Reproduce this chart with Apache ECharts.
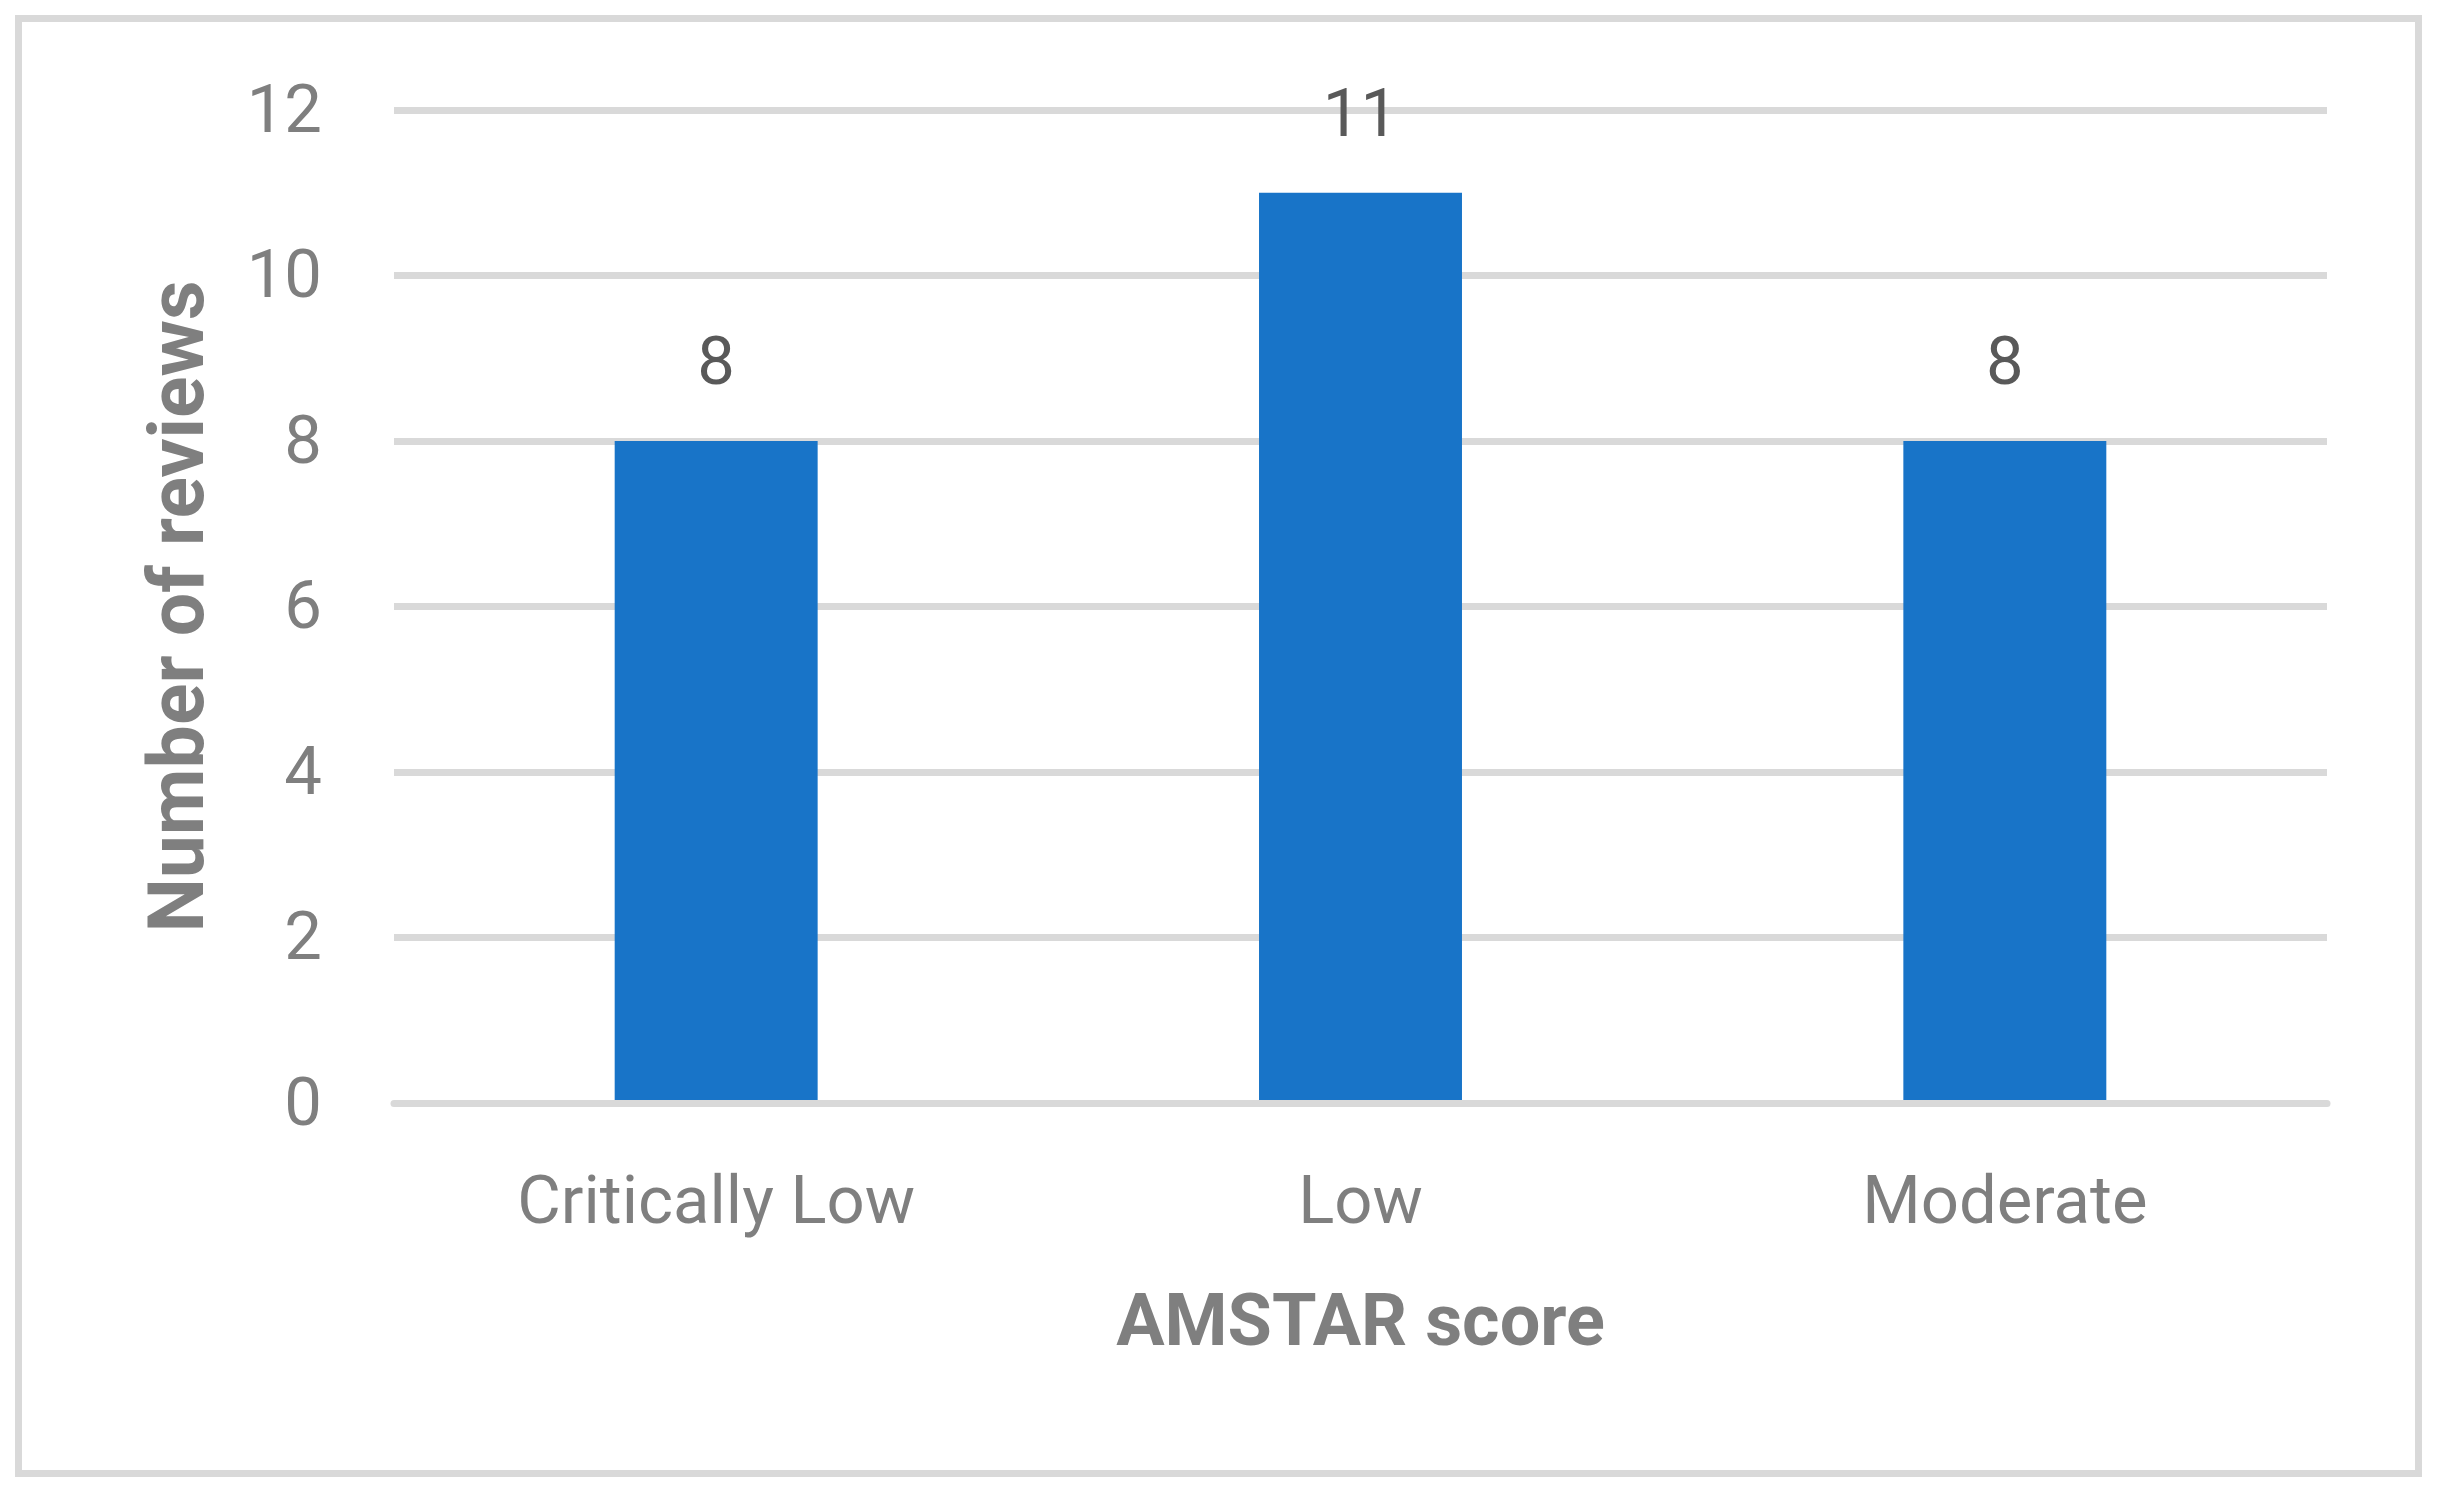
<!DOCTYPE html>
<html>
<head>
<meta charset="utf-8">
<script src="https://cdn.jsdelivr.net/npm/echarts@6/dist/echarts.min.js"></script>
<style>
  html, body { margin: 0; padding: 0; background: #ffffff; }
  #chart { width: 2441px; height: 1491px; }
</style>
</head>
<body>
<div id="chart"></div>
<script>
const categories = ['Critically Low', 'Low', 'Moderate'];
const reviewCounts = [8, 11, 8];
const yTicks = [0, 2, 4, 6, 8, 10, 12];

const chart = echarts.init(document.getElementById('chart'), null, { renderer: 'canvas' });

const option = {
  backgroundColor: '#ffffff',
  animation: false,
  graphic: [{
    type: 'rect',
    shape: { x: 18.5, y: 18.5, width: 2400, height: 1455 },
    style: { fill: 'none', stroke: '#d9d9d9', lineWidth: 7 },
    silent: true,
    z: -1
  }],
  grid: { left: 394, right: 114, top: 110, bottom: 388, containLabel: false },
  xAxis: {
    type: 'category',
    data: categories,
    z: 5,
    axisLine: { show: true, lineStyle: { color: '#d9d9d9', width: 7 } },
    axisTick: { show: false },
    axisLabel: {
      margin: 70,
      color: '#7f7f7f',
      fontFamily: 'Roboto',
      fontSize: 67
    },
    name: 'AMSTAR score',
    nameLocation: 'middle',
    nameGap: 188,
    nameTextStyle: {
      color: '#7f7f7f',
      fontFamily: 'Roboto',
      fontWeight: 'bold',
      fontSize: 72
    }
  },
  yAxis: {
    type: 'value',
    min: yTicks[0],
    max: yTicks[yTicks.length - 1],
    interval: yTicks[1] - yTicks[0],
    axisLine: { show: false },
    axisTick: { show: false },
    splitLine: { show: true, lineStyle: { color: '#d9d9d9', width: 7 } },
    axisLabel: {
      margin: 72,
      formatter: '{t|{value}}',
      rich: {
        t: {
          color: '#7f7f7f',
          fontFamily: 'Roboto',
          fontSize: 67,
          lineHeight: 67,
          padding: [10, 0, 0, 0]
        }
      },
      color: '#7f7f7f',
      fontFamily: 'Roboto',
      fontSize: 67
    },
    name: 'Number of reviews',
    nameLocation: 'middle',
    nameRotate: 90,
    nameGap: 172,
    nameTextStyle: {
      color: '#7f7f7f',
      fontFamily: 'Roboto',
      fontWeight: 'bold',
      fontSize: 77
    }
  },
  series: [{
    type: 'bar',
    data: reviewCounts,
    barWidth: '31.5%',
    itemStyle: { color: '#1874c8' },
    label: {
      show: true,
      position: 'top',
      distance: 40,
      color: '#595959',
      fontFamily: 'Roboto',
      fontSize: 67
    }
  }]
};

chart.setOption(option);
</script>
</body>
</html>
